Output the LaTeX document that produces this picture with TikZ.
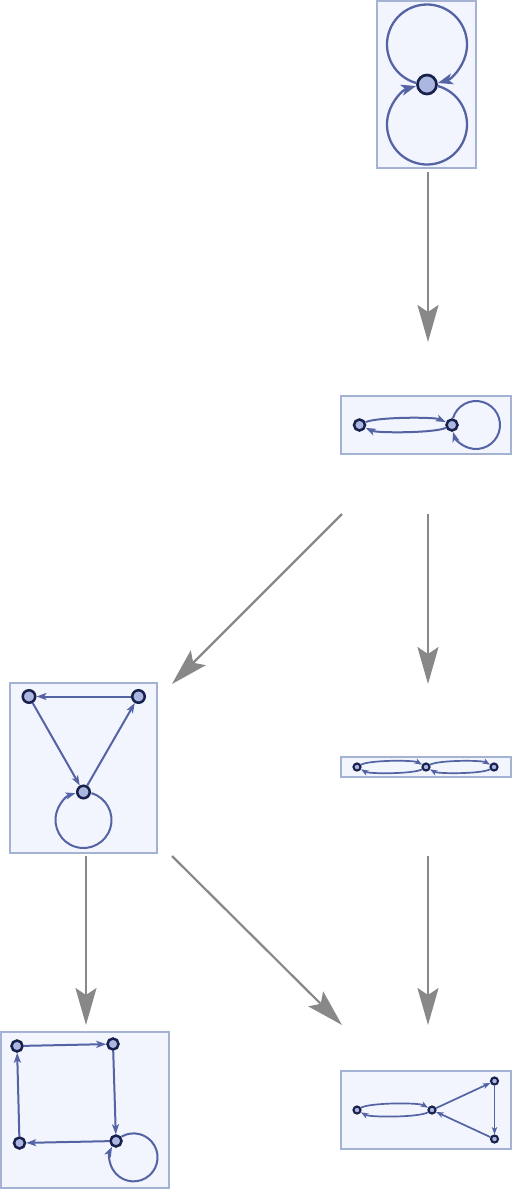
\documentclass[tikz,border=0pt]{standalone}
\usepackage{tikz}
\usetikzlibrary{positioning}
\usetikzlibrary{calc}
\usetikzlibrary{arrows.meta}
\definecolor{framefill}{RGB}{242,245,253}
\definecolor{frameline}{RGB}{164,179,211}
\definecolor{edgeblue}{RGB}{84,99,164}
\definecolor{vertfill}{RGB}{171,182,225}
\definecolor{vertline}{RGB}{24,32,76}
\definecolor{flowgray}{RGB}{136,136,136}
\tikzstyle{arrow} = [line width=2.2pt,draw=flowgray,-{Stealth[length=37pt,width=21pt,inset=7pt]}]
\tikzstyle{cell} = [minimum width=172pt,minimum height=172pt,inner sep=0pt,outer sep=0pt]
\tikzstyle{frame} = [line width=2.2pt,draw=frameline,fill=framefill]
\tikzstyle{vert} = [circle,draw=vertline,fill=vertfill,line width=2.5pt,inner sep=0pt,minimum size=11pt]
\tikzstyle{vertL} = [vert,line width=2.7pt,minimum size=19pt]
\tikzstyle{vertS} = [vert,line width=2.1pt,minimum size=7pt]
\tikzstyle{edge} = [line width=2pt,draw=edgeblue,-{Stealth[length=10pt,width=7pt,inset=2.5pt]}]
\tikzstyle{edgeL} = [line width=2.3pt,draw=edgeblue,-{Stealth[length=15pt,width=11pt,inset=4pt]}]
\tikzstyle{edgeS} = [line width=1.7pt,draw=edgeblue,-{Stealth[length=7.5pt,width=5.5pt,inset=2pt]}]
% loop at a vertex: [style]{vertex}{direction}{loop radius}{vertex radius}
\newcommand{\selfloop}[5][edge]{%
	\pgfmathsetmacro{\lphi}{2*asin(#5/(2*#4))}%
	\pgfmathsetmacro{\lstart}{#3+180+\lphi}%
	\pgfmathsetmacro{\lend}{#3+540-\lphi}%
	\draw[#1] ($(#2)+(#3:#4)+(\lstart:#4)$) arc[start angle=\lstart, end angle=\lend, radius=#4];%
}

\begin{document}
\begin{tikzpicture}[x=1pt,y=-1pt]
								\useasboundingbox (0,0) rectangle (517,1200);
								
								%Cells
								\node [cell] (cellA) at (428,86) {};
								\node [cell] (cellB) at (428,428) {};
								\node [cell] (cellC) at (428,770) {};
								\node [cell] (cellD) at (86,770) {};
								\node [cell] (cellE) at (86,1111) {};
								\node [cell] (cellF) at (428,1111) {};
								
								%Frames
								\draw [frame] (377,1) rectangle (476,168);
								\draw [frame] (341,396) rectangle (511,454);
								\draw [frame] (341,757) rectangle (511,777);
								\draw [frame] (10,683) rectangle (157,853);
								\draw [frame] (1,1032) rectangle (169,1188);
								\draw [frame] (341,1071) rectangle (511,1149);
								
								%Nodes
								\node [vertL] (a1) at (427,84.5) {};
								
								\node [vert] (b1) at (359.5,425) {};
								\node [vert] (b2) at (452,425) {};
								
								\node [vertS] (c1) at (357,767) {};
								\node [vertS] (c2) at (426,767) {};
								\node [vertS] (c3) at (494,767) {};
								
								\node [vert,minimum size=12.5pt] (d1) at (29,696.5) {};
								\node [vert,minimum size=12.5pt] (d2) at (138.5,696.5) {};
								\node [vert,minimum size=12.5pt] (d3) at (83.5,792) {};
								
								\node [vert] (e1) at (17,1046) {};
								\node [vert] (e2) at (113,1044) {};
								\node [vert] (e3) at (116,1141) {};
								\node [vert] (e4) at (19.5,1143) {};
								
								\node [vertS] (f1) at (357,1110) {};
								\node [vertS] (f2) at (432,1110) {};
								\node [vertS] (f3) at (494.5,1081) {};
								\node [vertS] (f4) at (494.5,1139) {};
								
								%Edges
								\selfloop[edgeL]{a1}{270}{40}{11}
								\selfloop[edgeL]{a1}{90}{40}{11}
								
								\draw [edge] (b1) to [bend left=25,looseness=0.4] (b2);
								\draw [edge] (b2) to [bend left=25,looseness=0.4] (b1);
								\selfloop{b2}{0}{24}{7}
								
								\draw [edgeS] (c1) to [bend left=30,looseness=0.4] (c2);
								\draw [edgeS] (c2) to [bend left=30,looseness=0.4] (c1);
								\draw [edgeS] (c2) to [bend left=30,looseness=0.4] (c3);
								\draw [edgeS] (c3) to [bend left=30,looseness=0.4] (c2);
								
								\draw [edge] (d2) -- (d1);
								\draw [edge] (d1) -- (d3);
								\draw [edge] (d3) -- (d2);
								\selfloop{d3}{90}{28}{8}
								
								\draw [edge] (e1) -- (e2);
								\draw [edge] (e2) -- (e3);
								\draw [edge] (e3) -- (e4);
								\draw [edge] (e4) -- (e1);
								\selfloop{e3}{43}{24}{7}
								
								\draw [edgeS] (f1) to [bend left=30,looseness=0.4] (f2);
								\draw [edgeS] (f2) to [bend left=30,looseness=0.4] (f1);
								\draw [edgeS] (f2) -- (f3);
								\draw [edgeS] (f3) -- (f4);
								\draw [edgeS] (f4) -- (f2);
								
								%Lines
								\draw [arrow] (cellA.south) -- (cellB.north);
								\draw [arrow] (cellB.south) -- (cellC.north);
								\draw [arrow] (cellB.south west) -- (cellD.north east);
								\draw [arrow] (cellD.south) -- (cellE.north);
								\draw [arrow] (cellD.south east) -- (cellF.north west);
								\draw [arrow] (cellC.south) -- (cellF.north);
								
							\end{tikzpicture}
\end{document}
